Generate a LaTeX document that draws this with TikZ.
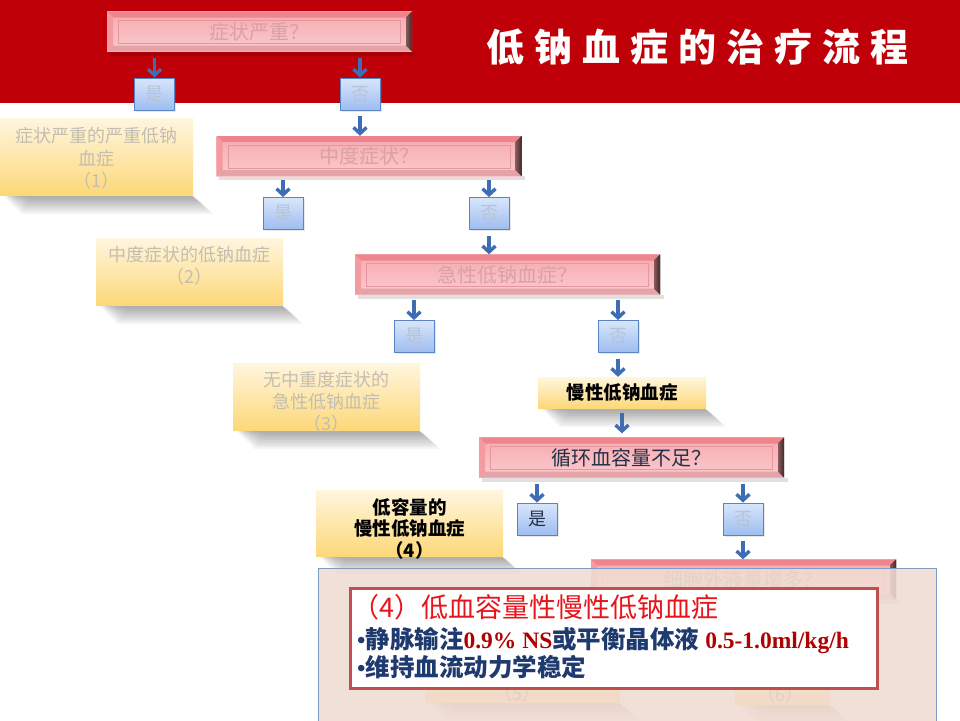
\documentclass[tikz,border=0pt]{standalone}
\usepackage{fontspec}
\newfontfamily\cjk{Noto Sans CJK SC}
\newfontfamily\tnr{Liberation Serif}
\usetikzlibrary{arrows.meta,shadows}
\definecolor{hdr}{RGB}{192,0,8}
\definecolor{qtop}{HTML}{F7A9AF}
\definecolor{qbot}{HTML}{FBCBCE}
\definecolor{qtopb}{HTML}{EE858D}
\definecolor{qleftb}{HTML}{F39BA1}
\definecolor{qbotb}{HTML}{E6A3A7}
\definecolor{qrb1}{HTML}{8A5A5C}
\definecolor{qrb2}{HTML}{3E2A2B}
\definecolor{qline}{HTML}{E597A0}
\definecolor{qfade}{HTML}{D9A2A6}
\definecolor{qdark}{HTML}{24304A}
\definecolor{btop}{HTML}{D8E6FB}
\definecolor{bbot}{HTML}{9EBDF0}
\definecolor{bedge}{HTML}{5A84C2}
\definecolor{bfade}{HTML}{B9C3D4}
\definecolor{ytop}{HTML}{FFF6DF}
\definecolor{ybot}{HTML}{FDD878}
\definecolor{yfade}{HTML}{C4BEB2}
\definecolor{arrc}{HTML}{3F6DB3}
\definecolor{ovfill}{HTML}{F0DCD2}
\definecolor{ovedge}{HTML}{7E9BC2}
\definecolor{redbox}{HTML}{C0504D}
\definecolor{redtxt}{HTML}{E8141C}
\definecolor{navy}{HTML}{1F3A6E}
\definecolor{numred}{HTML}{B00000}
\tikzset{
 qnode/.style={rectangle, minimum width=305, minimum height=40, inner sep=0, font=\cjk\fontsize{20}{24}\selectfont},
 bbox/.style={rectangle, minimum width=40, minimum height=32, inner sep=0, top color=btop, bottom color=bbot, draw=bedge, line width=0.9, drop shadow={shadow xshift=1.5pt, shadow yshift=-1.5pt, opacity=0.18}, font=\cjk\fontsize{18}{20}\selectfont},
 ybox/.style={rectangle, inner sep=0, top color=ytop, bottom color=ybot},
 ytext/.style={align=center, inner sep=0, text=yfade, font=\cjk\fontsize{18}{22.5}\selectfont},
 arr/.style={draw=arrc, line width=3.4, -{Straight Barb[length=6pt,width=13pt]}},
 numtxt/.style={},
}
\newcommand\qbox[5]{%
 \begin{scope}[shift={(#2,#3)}]
  \fill[black,opacity=0.12] (-150,20) rectangle (156,24);
  \fill[top color=qtop,bottom color=qbot] (-152.5,-20) rectangle (152.5,20);
  \fill[qtopb] (-152.5,-20) -- (152.5,-20) -- (146.5,-14) -- (-146.5,-14) -- cycle;
  \fill[qbotb] (-152.5,20) -- (152.5,20) -- (146.5,14) -- (-146.5,14) -- cycle;
  \fill[qleftb] (-152.5,-20) -- (-146.5,-14) -- (-146.5,14) -- (-152.5,20) -- cycle;
  \fill[left color=qrb1,right color=qrb2] (152.5,-20) -- (146.5,-14) -- (146.5,14) -- (152.5,20) -- cycle;
  \draw[qline,line width=0.8] (-141,-11) rectangle (141,12);
 \end{scope}
 \node[qnode,text=#5] (#1) at (#2,#3) {#4};
}
\newcommand\yshadow[3]{%
 \foreach \k in {0,...,7}{
  \fill[black,opacity=0.045] (#1+3+\k*1.5,#3) -- (#2-2,#3) -- (#2+20-\k*2.2,#3+19-\k*2.2) -- (#1+22+\k*1.5,#3+19-\k*2.2) -- cycle;
 }}
\newcommand\nm[1]{{\tnr\bfseries\fontsize{23.5}{26}\selectfont\color{numred}#1}}
\newcommand\bul{{\tnr\fontsize{24}{26}\selectfont\textbullet}}
\begin{document}
\begin{tikzpicture}[x=1pt,y=-1pt]
\useasboundingbox (0,0) rectangle (960,720);
\fill[white] (0,0) rectangle (960,720);
\fill[hdr] (0,0) rectangle (960,103);
\node[anchor=west,inner sep=0,text=white,font=\cjk\bfseries\fontsize{38}{42}\selectfont] (title) at (486,47) {低\kern10pt钠\kern10pt血\kern10pt症\kern10pt的\kern10pt治\kern10pt疗\kern10pt流\kern10pt程};

\qbox{q1}{259.5}{31.5}{症状严重？}{qfade}
\qbox{q2}{369}{156}{中度症状？}{qfade}
\qbox{q3}{507.5}{274.5}{急性低钠血症？}{qfade}
\qbox{q4}{631.5}{457.5}{循环血容量不足？}{qdark}

\node[bbox,text=bfade] (y1) at (154.5,94) {是};
\node[bbox,text=bfade] (n1) at (360,94) {否};
\node[bbox,text=bfade] (y2) at (283,213.5) {是};
\node[bbox,text=bfade] (n2) at (489,213.5) {否};
\node[bbox,text=bfade] (y3) at (414,336.5) {是};
\node[bbox,text=bfade] (n3) at (618,336.5) {否};
\node[bbox,text=qdark] (y4) at (537,519) {是};
\node[bbox,text=bfade] (n4) at (743,519) {否};

\yshadow{0}{193}{195}
\node[ybox,minimum width=193,minimum height=77] (a1) at (96.5,156.5) {};
\node[ytext] (a1t) at (96.5,158.5) {症状严重的严重低钠\\血症\\（1）};
\yshadow{96}{283}{305}
\node[ybox,minimum width=187,minimum height=67] (a2) at (189.5,271.5) {};
\node[ytext] (a2t) at (189.5,266) {中度症状的低钠血症\\（2）};
\yshadow{233}{420}{430}
\node[ybox,minimum width=187,minimum height=67] (a3) at (326.5,396.5) {};
\node[ytext,font=\cjk\fontsize{18}{22}\selectfont] (a3t) at (326.5,402) {无中重度症状的\\急性低钠血症\\（3）};
\yshadow{538}{706}{408}
\node[ybox,minimum width=168,minimum height=31,text=black,font=\cjk\bfseries\fontsize{18.5}{22}\selectfont] (chr) at (622,392.5) {慢性低钠血症};
\yshadow{316}{503}{556}
\node[ybox,minimum width=187,minimum height=66] (a4) at (409.5,523) {};
\node[ytext,text=black,font=\cjk\bfseries\fontsize{18.5}{21.5}\selectfont] (a4t) at (409.5,528.5) {低容量的\\慢性低钠血症\\（4）};

\draw[arr,shorten <=6pt] (q1.south -| y1.north) -- (y1.north);
\draw[arr,shorten <=6pt] (q1.south -| n1.north) -- (n1.north);
\draw[arr,shorten <=6pt] (n1.south) -- (n1.south |- q2.north);
\draw[arr,shorten <=4pt] (q2.south -| y2.north) -- (y2.north);
\draw[arr,shorten <=4pt] (q2.south -| n2.north) -- (n2.north);
\draw[arr,shorten <=6pt] (n2.south) -- (n2.south |- q3.north);
\draw[arr,shorten <=5pt] (q3.south -| y3.north) -- (y3.north);
\draw[arr,shorten <=5pt] (q3.south -| n3.north) -- (n3.north);
\draw[arr,shorten <=6pt] (n3.south) -- (n3.south |- chr.north);
\draw[arr,shorten <=5pt,shorten >=4pt] (chr.south) -- (chr.south |- q4.north);
\draw[arr,shorten <=6pt] (q4.south -| y4.north) -- (y4.north);
\draw[arr,shorten <=6pt] (q4.south -| n4.north) -- (n4.north);

\qbox{q5}{743.5}{579.5}{细胞外液量增多？}{black!45}
\draw[arr,shorten <=6pt] (n4.south) -- (n4.south |- q5.north);
\yshadow{425}{620}{702}
\node[ybox,minimum width=195,minimum height=80] (a5) at (522.5,662) {};
\node[ytext,text=black!55] (a5t) at (517,694) {（5）};
\yshadow{735}{830}{704}
\node[ybox,minimum width=95,minimum height=80] (a6) at (782.5,664) {};
\node[ytext,text=black!55] (a6t) at (780,695) {（6）};

\node[draw=ovedge,line width=0.8,fill=ovfill,fill opacity=0.88,minimum width=618,minimum height=160,anchor=north west,inner sep=0] (panel) at (318,568) {};
\node[draw=redbox,line width=3,fill=white,minimum width=527,minimum height=100,anchor=north west,inner sep=0] (wbox) at (349,587) {};
\node[anchor=west,inner sep=0,text=redtxt,font=\cjk\fontsize{27}{30}\selectfont] (l1) at (352,607) {（4）低血容量性慢性低钠血症};
\node[anchor=west,inner sep=0,text=navy,font=\cjk\bfseries\fontsize{24.5}{30}\selectfont] (l2) at (357,640) {\bul 静脉输注\nm{0.9\% NS}或平衡晶体液\nm{\ 0.5-1.0ml/kg/h}};
\node[anchor=west,inner sep=0,text=navy,font=\cjk\bfseries\fontsize{24.5}{30}\selectfont] (l3) at (357,667) {\bul 维持血流动力学稳定};
\end{tikzpicture}
\end{document}
